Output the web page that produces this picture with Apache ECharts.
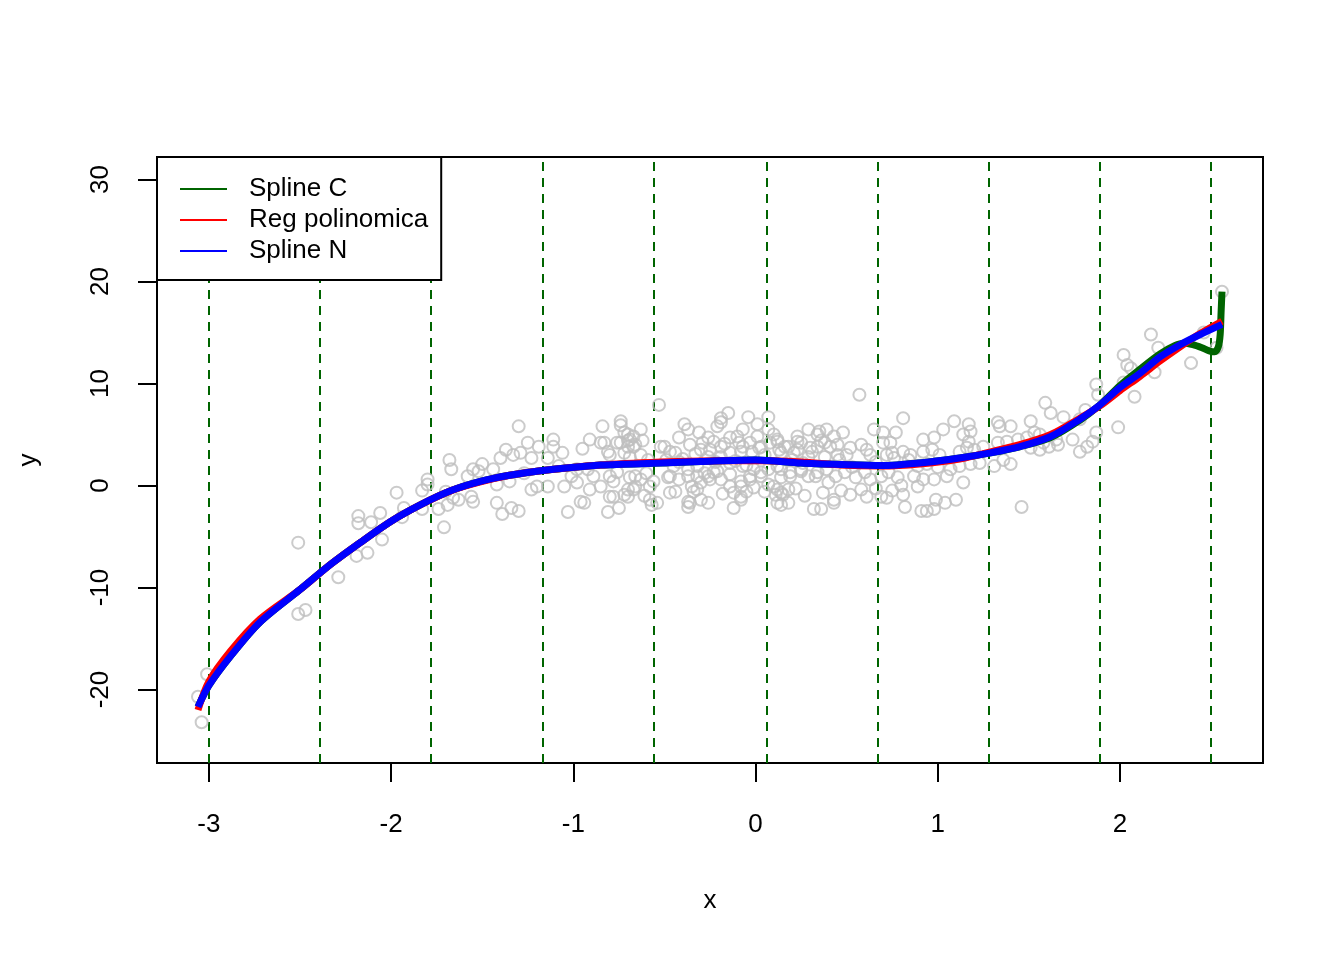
<!DOCTYPE html>
<html>
<head>
<meta charset="utf-8">
<script src="https://cdn.jsdelivr.net/npm/echarts@6/dist/echarts.min.js"></script>
<style>html,body{margin:0;padding:0;background:#fff}#c{width:1344px;height:960px}</style>
</head>
<body>
<div id="c"></div>
<script>
// ---- data ----
const xTicks = [-3, -2, -1, 0, 1, 2];
const yTicks = [-20, -10, 0, 10, 20, 30];
const knots = [-3.0, -2.39, -1.78, -1.17, -0.555, 0.055, 0.67, 1.28, 1.89, 2.5];

const ptsX = [
-3.04,-3.06,-3.01,-2.51,-2.51,-2.47,-2.29,-2.19,-2.13,-2.18,-2.18,-2.11,-2.06,-2.05,-1.97,-1.93,-1.94,-1.83,-1.83,-1.74,-1.71,-1.69,-1.66,-1.80,-1.80,-1.68,-1.67,-1.70,
-1.30,-1.63,-1.56,-1.55,-1.58,-1.52,-1.50,-1.55,-1.42,-1.39,-1.34,-1.30,-1.42,-1.35,-1.44,-1.40,-1.37,-1.33,-1.29,-1.25,-1.23,-1.19,-1.11,-1.11,-1.06,-1.14,-1.20,-1.14,-1.23,-1.05,-1.03,-0.98,-0.98,-0.96,-0.94,-0.91,-0.91,-0.84,-0.85,-0.81,-0.81,-0.78,-0.74,-0.72,-0.74,-0.70,-0.67,-0.70,-0.67,-0.80,-0.76,-0.89,-0.92,-1.01,-0.83,-0.85,
-0.53,-0.63,-0.70,-0.67,-0.69,-0.63,-0.59,-0.66,-0.70,-0.66,-0.72,-0.57,-0.54,-0.50,-0.39,-0.37,-0.42,-0.36,-0.31,-0.29,-0.26,-0.21,-0.19,-0.15,-0.04,0.07,0.01,-0.07,-0.14,-0.09,-0.19,-0.25,-0.47,-0.52,-0.49,-0.42,-0.37,-0.32,-0.26,-0.19,-0.14,-0.08,-0.02,0.03,0.08,0.12,0.18,0.23,0.29,0.34,0.39,0.43,0.25,0.34,0.41,0.29,0.21,0.14,0.12,0.07,-0.01,-0.07,-0.14,-0.37,-0.35,-0.30,-0.26,-0.23,-0.19,-0.14,-0.12,-0.08,-0.03,0.03,0.10,0.14,0.12,0.18,0.14,0.19,0.25,0.29,0.34,0.39,0.37,0.43,0.32,0.36,-0.12,-0.08,-0.26,-0.37,-0.32,-0.42,-0.47,
-0.69,-0.76,-0.80,-0.72,-0.19,0.01,0.07,-0.44,-0.30,-0.23,-0.10,-0.07,-0.03,0.02,-0.69,-0.63,-0.58,-0.78,-0.48,-0.32,-0.25,-0.21,-0.14,-0.08,-0.03,0.03,-0.01,0.07,-0.58,-0.36,-0.30,-0.37,-0.08,-0.80,-0.75,
0.57,0.81,0.35,0.48,0.65,0.70,0.77,0.74,0.70,0.23,0.12,0.13,0.23,0.30,0.38,0.45,0.52,0.58,0.61,0.63,0.50,0.45,0.38,0.72,0.75,0.81,0.85,0.92,0.92,0.94,0.89,0.14,0.19,0.25,0.33,0.44,0.49,0.55,0.60,0.63,0.69,0.73,0.78,0.87,0.92,0.12,0.18,0.11,0.15,0.14,0.43,0.58,0.61,0.69,0.72,0.81,0.82,0.91,0.94,0.89,
1.59,1.62,1.69,1.81,1.09,1.03,1.17,1.18,1.33,1.34,1.40,1.51,1.53,0.98,1.14,1.17,0.97,1.01,1.12,1.16,1.20,1.25,1.33,1.38,1.44,1.49,1.56,1.61,1.66,1.56,1.51,1.74,1.78,1.82,1.00,1.07,1.12,1.18,1.23,1.31,1.36,1.40,0.98,1.05,1.14,0.99,1.04,1.10,0.98,1.46,
2.56,2.17,2.21,2.02,2.04,2.06,2.19,2.39,2.46,2.53,2.02,1.87,1.88,2.08,1.99,1.87,1.85,1.65,1.58,1.78,
-0.74,-0.70,-0.62,-0.66,-0.60,-0.56,-0.45,-0.40,-0.33,-0.28,-0.22,-0.17,-0.11,-0.05,0.05,0.10,0.16,0.20,0.26,0.31,0.36,0.46,0.53,0.66,0.76,0.84,-0.44,-0.34,-0.18,-0.05,0.05,0.22,0.40,0.52,0.66,0.80,-0.95,-1.08,-1.27,-0.61,-0.47,0.27,0.47,0.75
];
const ptsY = [
-23.2,-20.7,-18.5,-5.6,-12.6,-12.2,-9.0,-6.9,-6.6,-3.7,-3.0,-3.6,-2.7,-5.3,-0.7,-2.2,-3.1,-0.5,-2.3,-2.3,-4.1,-1.9,-1.2,0.1,0.6,2.5,1.6,-0.6,
5.8,-1.4,-1.1,-1.6,0.9,1.4,2.1,1.6,-1.7,-2.8,-2.2,-2.5,0.1,0.4,1.6,2.7,3.5,3.0,3.2,4.2,2.7,3.8,4.5,3.8,3.2,2.7,-0.1,-0.1,-0.4,-0.1,-2.6,1.6,0.3,-1.6,-1.7,-0.4,4.5,5.8,4.2,3.3,-2.6,-1.1,6.3,5.2,4.2,3.8,4.8,-1.1,-0.4,0.9,1.3,0.9,1.6,0.9,4.2,-0.1,
7.9,5.5,5.0,3.8,2.8,3.0,2.5,0.9,-0.4,-0.1,-0.9,-1.9,-1.7,3.8,6.0,5.5,4.7,4.0,5.2,4.2,4.7,5.8,6.6,7.1,6.7,6.7,4.8,5.5,4.7,4.2,3.8,3.5,3.3,3.8,2.5,2.3,1.6,1.9,2.8,2.8,3.2,3.3,3.3,3.8,4.2,4.5,3.8,4.8,5.5,5.0,5.5,4.8,4.2,3.8,3.8,2.8,3.2,3.2,1.9,1.6,1.6,1.9,2.2,0.9,-0.1,0.3,0.9,1.3,0.6,-0.1,-0.7,-0.1,0.6,0.9,-0.1,-0.7,-1.7,-1.7,0.8,1.3,1.6,0.9,1.3,1.6,-0.7,-1.4,-2.3,-2.3,-2.2,-1.1,-1.7,-1.6,-0.4,0.6,0.9,
4.5,4.2,3.0,3.2,6.2,6.0,5.5,3.2,3.5,4.3,4.8,3.8,4.2,3.7,0.8,0.6,-0.1,0.4,0.8,0.9,0.6,1.4,1.1,0.4,0.9,1.3,-0.2,0.1,-1.4,-1.7,-1.4,-2.1,-1.4,-1.1,-2.2,
8.9,6.6,5.3,5.2,5.5,5.2,5.2,4.2,4.2,4.3,4.3,3.5,3.5,3.7,4.2,4.0,3.7,4.0,3.5,3.0,3.0,3.0,2.8,3.0,3.2,3.3,3.0,3.3,4.5,2.1,1.9,1.6,0.9,1.4,0.9,0.9,1.3,0.8,1.3,0.6,0.9,1.3,0.8,0.9,0.6,-0.4,-0.4,-0.9,-0.9,-1.9,-1.7,-0.4,-1.1,-1.1,-1.2,-0.9,-2.1,-2.5,-2.5,-0.1,
8.1,7.1,6.7,7.4,6.3,5.5,6.0,5.3,6.2,5.8,5.8,6.3,5.2,4.7,5.0,4.3,3.5,3.0,3.3,3.7,3.5,3.8,4.2,4.3,4.5,4.7,5.0,3.8,4.0,3.5,3.7,4.5,3.3,3.8,1.8,1.6,1.9,2.1,2.2,1.9,2.5,2.1,0.6,0.9,0.3,-1.4,-1.7,-1.4,-2.3,-2.1,
19.0,14.8,13.5,12.8,11.8,11.5,11.1,12.0,15.0,13.5,10.1,9.9,8.9,8.7,5.7,5.2,4.3,4.5,4.2,6.5,
5.9,4.4,4.4,4.0,1.2,0.4,1.9,2.6,3.1,1.2,2.3,4.1,2.4,2.0,3.0,5.0,3.8,2.5,2.2,3.3,4.4,2.5,1.8,2.3,2.7,2.5,-0.6,-0.6,-0.8,-0.6,-0.6,-0.3,0.3,-0.9,-0.3,0.0,3.6,1.9,1.2,-1.0,-0.7,-1.0,-0.5,-0.5
];

const curveX = [-3.06,-3.0,-2.88,-2.72,-2.5,-2.33,-2.17,-2.0,-1.84,-1.67,-1.51,-1.35,-1.18,-0.85,-0.52,-0.3,0.0,0.25,0.47,0.69,0.9,1.12,1.29,1.45,1.62,1.78,1.89,2.0,2.11,2.22,2.33,2.44,2.56];
const splineN = [-21.7,-19.6,-16.7,-13.4,-10.2,-7.7,-5.6,-3.5,-1.9,-0.5,0.4,1.0,1.45,2.0,2.2,2.35,2.5,2.2,2.05,1.95,2.2,2.7,3.2,3.8,4.8,6.5,7.9,9.6,11.0,12.6,13.8,14.8,15.8];
const regPol = [-22.0,-19.2,-16.2,-13.1,-10.2,-7.7,-5.6,-3.5,-1.9,-0.5,0.35,1.0,1.45,2.0,2.3,2.4,2.45,2.3,2.0,1.9,2.1,2.6,3.3,4.0,5.0,6.6,7.8,9.3,10.7,12.2,13.6,14.9,16.1];
const splineCX = [-3.06,-3.0,-2.88,-2.72,-2.5,-2.33,-2.17,-2.0,-1.84,-1.67,-1.51,-1.35,-1.18,-0.85,-0.52,-0.3,0.0,0.25,0.47,0.69,0.9,1.12,1.29,1.45,1.62,1.78,1.89,2.0,2.11,2.22,2.30,2.35,2.40,2.45,2.49,2.52,2.54,2.55,2.555,2.56];
const splineC = [-21.7,-19.6,-16.7,-13.4,-10.2,-7.7,-5.6,-3.5,-1.9,-0.5,0.4,1.0,1.45,2.0,2.2,2.35,2.5,2.2,2.05,1.95,2.2,2.7,3.2,3.8,4.7,6.4,7.9,9.8,11.4,12.9,13.7,13.95,13.8,13.5,13.2,13.1,13.6,14.8,17.0,19.0];

const zip = (a, b) => a.map((v, i) => [v, b[i]]);
const FONT = "'Liberation Sans', Arial, sans-serif";

const chart = echarts.init(document.getElementById('c'), null, {renderer: 'canvas'});
chart.setOption({
  animation: false,
  backgroundColor: '#fff',
  textStyle: {fontFamily: FONT},
  grid: {left: 157, top: 157, width: 1106, height: 606, show: true, borderColor: '#000', borderWidth: 2, backgroundColor: 'transparent'},
  xAxis: {
    type: 'value', min: -3.285, max: 2.785,
    name: 'x', nameLocation: 'middle', nameGap: 125,
    nameTextStyle: {fontSize: 26, color: '#000', fontFamily: FONT},
    axisLine: {show: true, onZero: false, lineStyle: {color: '#000', width: 2}},
    splitLine: {show: false},
    axisTick: {show: true, customValues: xTicks, length: 19, inside: false, lineStyle: {color: '#000', width: 2}},
    axisLabel: {customValues: xTicks, fontSize: 26, color: '#000', margin: 49, fontFamily: FONT}
  },
  yAxis: {
    type: 'value', min: -27.2, max: 32.2,
    name: 'y', nameLocation: 'middle', nameGap: 115,
    nameTextStyle: {fontSize: 26, color: '#000', fontFamily: FONT},
    axisLine: {show: true, onZero: false, lineStyle: {color: '#000', width: 2}},
    splitLine: {show: false},
    axisTick: {show: true, customValues: yTicks, length: 19, inside: false, lineStyle: {color: '#000', width: 2}},
    axisLabel: {customValues: yTicks, fontSize: 26, color: '#000', margin: 43, rotate: 90, fontFamily: FONT}
  },
  legend: {
    left: 157, top: 157, orient: 'vertical', z: 20,
    backgroundColor: '#fff', borderColor: '#000', borderWidth: 2,
    padding: [19, 13, 16, 23], itemGap: 5,
    itemWidth: 47, itemHeight: 2, icon: 'rect',
    textStyle: {fontSize: 26, color: '#000', lineHeight: 26, padding: [0, 0, 0, 17], fontFamily: FONT},
    data: ['Spline C', 'Reg polinomica', 'Spline N'],
    selectedMode: false
  },
  series: [
    {
      type: 'scatter', name: 'pts', data: zip(ptsX, ptsY),
      symbol: 'circle', symbolSize: 12, silent: true,
      itemStyle: {color: 'rgba(0,0,0,0)', borderColor: '#BEBEBE', borderWidth: 2},
      markLine: {
        silent: true, symbol: ['none', 'none'], label: {show: false}, z: 1,
        lineStyle: {color: '#006400', width: 2, type: [9, 7]},
        data: knots.map(k => ({xAxis: k}))
      },
      z: 2
    },
    {type: 'line', name: 'Spline C', data: zip(splineCX, splineC), showSymbol: false, smooth: 0.3, color: '#006400', lineStyle: {width: 7, color: '#006400'}, z: 3},
    {type: 'line', name: 'Reg polinomica', data: zip(curveX, regPol), showSymbol: false, smooth: 0.3, color: '#FF0000', lineStyle: {width: 7, color: '#FF0000'}, z: 4},
    {type: 'line', name: 'Spline N', data: zip(curveX, splineN), showSymbol: false, smooth: 0.3, color: '#0000FF', lineStyle: {width: 7, color: '#0000FF'}, z: 5}
  ]
});
</script>
</body>
</html>
